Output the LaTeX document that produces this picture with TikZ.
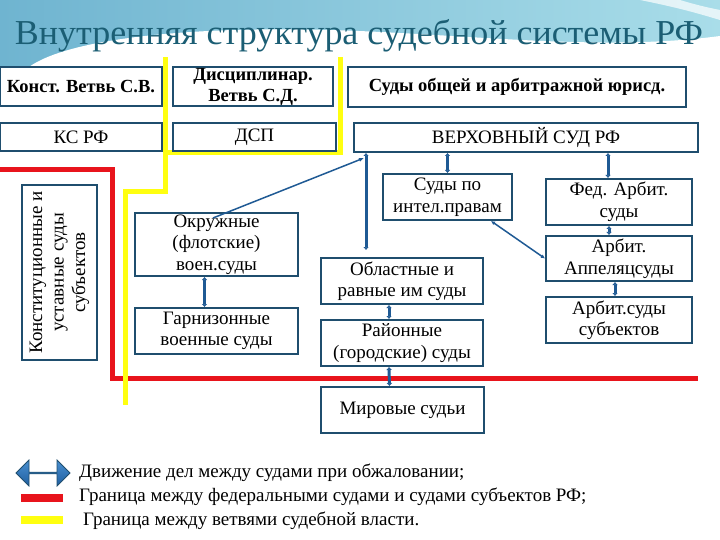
\documentclass[tikz,border=0pt]{standalone}
\usepackage{fontspec}
\setmainfont{Liberation Serif}
\usetikzlibrary{arrows.meta,shapes.arrows,calc}
\definecolor{boxc}{HTML}{1F4E6E}
\definecolor{linkc}{HTML}{1F5A94}
\definecolor{redc}{HTML}{E8141C}
\definecolor{yelc}{HTML}{FFFF10}
\definecolor{titlec}{HTML}{1B5E74}
\definecolor{bgA}{HTML}{6FB4D0}
\definecolor{bgB}{HTML}{A9DDE9}
\definecolor{arrA}{HTML}{4A8FD0}
\definecolor{arrB}{HTML}{1F5FA0}
\begin{document}
\begin{tikzpicture}[x=1pt,y=-1pt,
 box/.style={draw=boxc, line width=2pt, fill=white, inner sep=0pt, align=center, font=\fontsize{19}{21.5}\selectfont},
 bbox/.style={box, font=\fontsize{18.5}{21}\selectfont\bfseries},
 link/.style={draw=linkc, line width=3pt, {Latex[length=3pt,width=6pt]}-{Latex[length=3pt,width=6pt]}},
 thinlink/.style={draw=linkc, line width=1.5pt},
 redline/.style={draw=redc, line width=5pt},
 yelline/.style={draw=yelc, line width=5pt},
 legend/.style={anchor=west, inner sep=0pt, font=\fontsize{19}{22}\selectfont}]
\useasboundingbox (0,0) rectangle (720,540);
\fill[white] (0,0) rectangle (720,540);
% background top
\fill[left color=bgA, right color=bgB] (0,0) rectangle (720,66);
\fill[white] (25,70) .. controls (60,40) and (180,26) .. (330,30) .. controls (470,34) and (600,52) .. (720,36) -- (720,70) -- cycle;
\fill[white, opacity=0.7] (640,0) .. controls (680,8) and (700,14) .. (720,20) -- (720,10) .. controls (700,6) and (690,3) .. (680,0) -- cycle;
% title
\node[anchor=base, inner sep=0pt, text=titlec, font=\fontsize{35}{40}\selectfont] (title) at (359,45) {\scalebox{1.027}[1]{Внутренняя структура судебной системы РФ}};
% boundary lines
\draw[redline] (0,170) -- (112,170) -- (112,378) -- (698,378);
\draw[yelline] (165,57) -- (165,192) -- (125,192) -- (125,405);
\draw[yelline] (340,57) -- (340,153) -- (165,153);
% boxes
\node[bbox, minimum width=162pt, minimum height=39pt] (konst) at (81,86.5) {Конст. Ветвь С.В.};
\node[bbox, minimum width=160pt, minimum height=39pt] (disc) at (253,86.5) {Дисциплинар.\\Ветвь С.Д.};
\node[bbox, minimum width=338pt, minimum height=40pt] (obsh) at (517,87) {Суды общей и арбитражной юрисд.};
\node[box, minimum width=162pt, minimum height=28pt] (ks) at (81,137) {КС РФ};
\node[box, minimum width=163pt, minimum height=28pt] (dsp) at (254.5,137) {ДСП};
\node[box, minimum width=344pt, minimum height=29pt] (vs) at (526,137.5) {ВЕРХОВНЫЙ СУД РФ};
\node[box, rotate=90, minimum width=175pt, minimum height=75pt] (subj) at (59.5,272.5) {Конституционные и\\уставные суды\\субъектов};
\node[box, minimum width=163pt, minimum height=63pt] (okr) at (216.5,244.5) {Окружные\\(флотские)\\воен.суды};
\node[box, minimum width=163pt, minimum height=46pt] (garn) at (216.5,331) {Гарнизонные\\военные суды};
\node[box, minimum width=129pt, minimum height=46pt] (intel) at (447.5,197) {Суды по\\интел.правам};
\node[box, minimum width=162pt, minimum height=46pt] (obl) at (402,281) {Областные и\\равные им суды};
\node[box, minimum width=162pt, minimum height=46pt] (rayon) at (402,343) {Районные\\(городские) суды};
\node[box, minimum width=163pt, minimum height=46pt] (mir) at (402.5,410) {Мировые судьи};
\node[box, minimum width=146pt, minimum height=46pt] (fed) at (619,202) {Фед. Арбит.\\суды};
\node[box, minimum width=146pt, minimum height=45pt] (app) at (619,258.5) {Арбит.\\Аппеляцсуды};
\node[box, minimum width=146pt, minimum height=46pt] (arbs) at (619,320) {Арбит.суды\\субъектов};
% connectors
\draw[link] (vs.south -| intel.north) -- (intel.north);
\draw[link] ([xshift=-11pt]fed.north |- vs.south) -- ([xshift=-11pt]fed.north);
\draw[link] ([xshift=46pt]obl.north west |- vs.south) -- ([xshift=46pt,yshift=7pt]obl.north west);
\draw[link] ([xshift=-12pt]okr.south) -- ([xshift=-12pt]garn.north);
\draw[link] ([xshift=-10pt]fed.south) -- ([xshift=-10pt]app.north);
\draw[link] ([xshift=-4pt]app.south) -- ([xshift=-4pt]arbs.north);
\draw[link] ([xshift=-13pt]obl.south) -- ([xshift=-13pt]rayon.north);
\draw[link] ([xshift=-13pt]rayon.south) -- ([xshift=-13pt]mir.north);
\draw[thinlink, -{Latex[length=5pt,width=4pt]}] ([xshift=-3.5pt,yshift=-6pt]okr.north) -- ([xshift=11pt,yshift=-5pt]vs.south west);
\draw[thinlink, {Latex[length=4pt,width=4pt]}-{Latex[length=4pt,width=4pt]}] ([xshift=-22pt]intel.south east) -- (app.west);
% legend
\node[double arrow, top color=arrA, bottom color=arrB, draw=boxc, line width=0.8pt, minimum height=54pt, minimum width=26pt, double arrow head extend=6.5pt, inner sep=0pt] (la) at (43,473) {};
\node[fill=redc, minimum width=42pt, minimum height=8pt, inner sep=0pt] (lr) at (42,498) {};
\node[fill=yelc, minimum width=42pt, minimum height=8pt, inner sep=0pt] (ly) at (42,520) {};
\node[legend] (l1) at (79,473) {Движение дел между судами при обжаловании;};
\node[legend] (l2) at (79,497) {Граница между федеральными судами и судами субъектов РФ;};
\node[legend] (l3) at (83,521) {Граница между ветвями судебной власти.};
\end{tikzpicture}
\end{document}
